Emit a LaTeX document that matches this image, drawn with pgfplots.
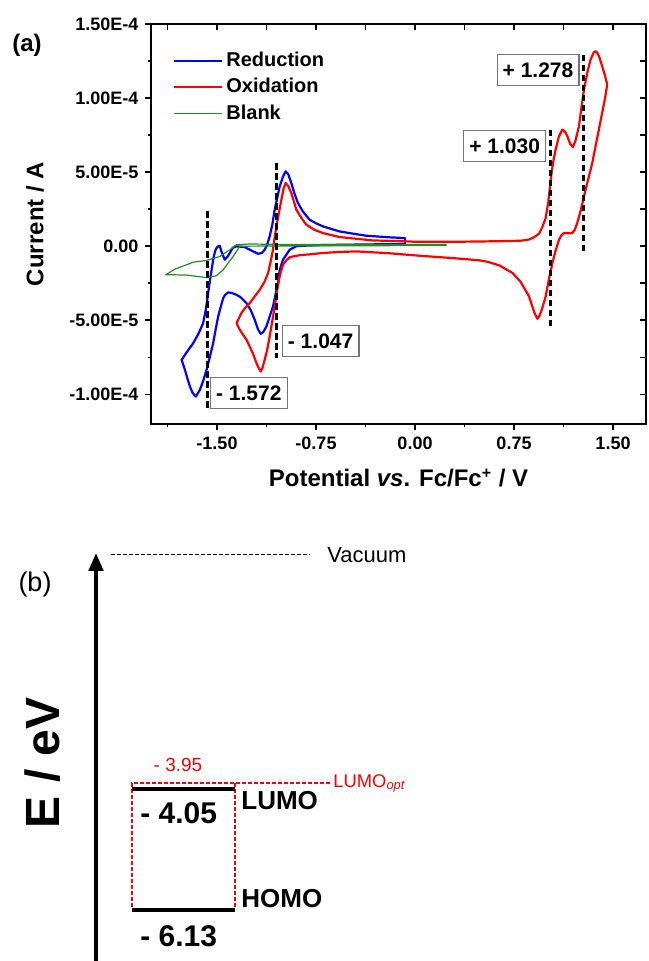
\documentclass[border=0pt]{standalone}
\usepackage{pgfplots}
\pgfplotsset{compat=1.18}
\usepackage{fontspec}
\setmainfont{Liberation Sans}
\usetikzlibrary{arrows.meta}

\definecolor{cvblue}{rgb}{0,0,1}
\definecolor{cvred}{rgb}{1,0,0}
\definecolor{cvgreen}{rgb}{0.13,0.55,0.13}
\definecolor{boxgray}{rgb}{0.45,0.45,0.45}

\pgfplotstableread{
x y
-0.075 0.15
-0.37 0.12
-0.70 0.08
-0.85 0.03
-0.90 0.0
-0.95 -0.24
-1.00 -0.91
-1.025 -1.6
-1.038 -2.49
-1.076 -4.07
-1.126 -5.42
-1.150 -5.8
-1.169 -5.91
-1.190 -5.6
-1.214 -4.97
-1.245 -4.3
-1.277 -3.84
-1.32 -3.45
-1.352 -3.28
-1.39 -3.15
-1.416 -3.12
-1.440 -3.3
-1.453 -3.5
-1.472 -4.1
-1.491 -4.74
-1.510 -5.6
-1.529 -6.54
-1.555 -7.5
-1.579 -8.34
-1.605 -9.1
-1.630 -9.70
-1.660 -10.15
-1.685 -9.9
-1.705 -9.47
-1.725 -8.9
-1.743 -8.34
-1.768 -7.67
-1.725 -7.1
-1.680 -6.54
-1.640 -5.9
-1.605 -5.19
-1.585 -4.3
-1.567 -3.16
-1.548 -2.0
-1.529 -0.91
-1.515 -0.35
-1.504 -0.12
-1.490 0.0
-1.479 0.03
-1.465 -0.4
-1.441 -0.91
-1.420 -0.7
-1.403 -0.46
-1.380 -0.1
-1.352 -0.01
-1.290 -0.06
-1.227 -0.35
-1.189 -0.51
-1.160 -0.45
-1.139 -0.24
-1.120 0.1
-1.101 0.66
-1.080 1.5
-1.063 2.47
-1.045 3.2
-1.025 4.04
-1.000 4.7
-0.980 5.05
-0.960 4.85
-0.937 4.27
-0.915 3.6
-0.887 2.92
-0.850 2.35
-0.799 1.79
-0.75 1.55
-0.698 1.34
-0.572 1.0
-0.45 0.82
-0.370 0.71
-0.194 0.6
-0.075 0.55
-0.075 0.15
}\reduction

\pgfplotstableread{
x y
0.0 0.30
0.30 0.30
0.50 0.32
0.70 0.35
0.80 0.37
0.864 0.45
0.90 0.6
0.940 0.85
0.965 1.3
0.990 1.9
1.010 3.0
1.028 4.49
1.045 5.6
1.065 6.52
1.090 7.4
1.116 7.87
1.135 7.75
1.154 7.42
1.176 6.9
1.196 6.70
1.215 7.1
1.242 8.09
1.260 9.3
1.280 10.57
1.305 11.7
1.330 12.6
1.355 13.1
1.373 13.16
1.395 12.8
1.418 12.15
1.440 11.5
1.456 10.91
1.440 10.0
1.418 9.0
1.380 7.3
1.343 5.62
1.310 4.45
1.280 3.36
1.255 2.4
1.229 1.57
1.210 1.1
1.191 0.89
1.160 0.88
1.129 0.89
1.110 0.75
1.091 0.44
1.065 -0.3
1.041 -1.14
1.015 -2.2
0.990 -3.39
0.960 -4.3
0.940 -4.75
0.927 -4.9
0.905 -4.5
0.864 -3.39
0.80 -2.4
0.738 -1.8
0.64 -1.3
0.55 -1.05
0.486 -0.95
0.284 -0.8
0.033 -0.64
-0.219 -0.46
-0.446 -0.35
-0.60 -0.4
-0.698 -0.46
-0.80 -0.55
-0.87 -0.6
-0.924 -0.69
-0.95 -0.75
-0.975 -0.95
-1.000 -1.25
-1.015 -1.7
-1.025 -2.04
-1.045 -3.0
-1.063 -4.07
-1.082 -5.1
-1.101 -6.09
-1.120 -7.0
-1.139 -7.67
-1.155 -8.2
-1.169 -8.46
-1.185 -8.2
-1.201 -7.89
-1.225 -7.3
-1.252 -6.77
-1.277 -6.3
-1.302 -5.98
-1.330 -5.6
-1.352 -5.19
-1.315 -4.51
-1.285 -4.15
-1.252 -3.84
-1.215 -3.4
-1.176 -2.94
-1.140 -2.4
-1.113 -1.81
-1.095 -1.1
-1.076 -0.24
-1.063 0.6
-1.050 1.34
-1.030 2.3
-1.012 3.14
-0.995 3.9
-0.980 4.27
-0.960 4.05
-0.937 3.59
-0.899 2.47
-0.860 1.9
-0.823 1.45
-0.76 1.1
-0.698 0.89
-0.572 0.62
-0.320 0.39
-0.068 0.33
0.0 0.30
}\oxidation

\pgfplotstableread{
x y
0.24 0.12
-0.5 0.12
-1.0 0.12
-1.252 0.15
-1.352 0.1
-1.403 -0.24
-1.479 -0.69
-1.579 -0.96
-1.68 -1.08
-1.73 -1.25
-1.82 -1.55
-1.889 -1.93
-1.82 -1.93
-1.73 -1.95
-1.579 -2.12
-1.504 -1.99
-1.453 -1.59
-1.378 -0.69
-1.327 0.0
-1.0 0.02
-0.5 0.03
0.24 0.05
}\blank

\begin{document}
\begin{tikzpicture}[
  boxlab/.style={draw=boxgray, line width=0.6pt, fill=white,
    font=\bfseries\fontsize{10.5}{12}\selectfont,
    inner xsep=2.8pt, inner ysep=3.9pt, text height=7.6pt, text depth=0pt},
]
\path[use as bounding box] (0,0) rectangle (324pt,-480.5pt);

% ---------- panel (a): inner ticks on top/right ----------
\begin{axis}[
  at={(75.5pt,-12pt)}, anchor=north west,
  scale only axis, width=247.5pt, height=200pt,
  xmin=-2, xmax=1.75, ymin=-12, ymax=15,
  axis x line*=top, axis y line*=right,
  tick align=inside,
  xtick={-1.5,-0.75,0,0.75,1.5}, xticklabels={},
  minor xtick={-1.875,-1.125,-0.375,0.375,1.125},
  ytick={-10,-5,0,5,10,15}, yticklabels={},
  minor ytick={-7.5,-2.5,2.5,7.5,12.5},
  major tick length=2.8pt, minor tick length=2.8pt,
  every tick/.style={black, line width=0.8pt},
  axis line style={line width=1pt, line cap=rect},
]
\end{axis}

% ---------- panel (a): main axis ----------
\begin{axis}[
  at={(75.5pt,-12pt)}, anchor=north west,
  scale only axis, width=247.5pt, height=200pt,
  xmin=-2, xmax=1.75, ymin=-12, ymax=15,
  axis x line*=bottom, axis y line*=left,
  tick align=outside,
  clip=false,
  xtick={-1.5,-0.75,0,0.75,1.5},
  xticklabels={-1.50,-0.75,0.00,0.75,1.50},
  minor xtick={-1.875,-1.125,-0.375,0.375,1.125},
  ytick={-10,-5,0,5,10,15},
  yticklabels={-1.00E-4,-5.00E-5,0.00,5.00E-5,1.00E-4,1.50E-4},
  minor ytick={-7.5,-2.5,2.5,7.5,12.5},
  major tick length=2.8pt, minor tick length=1.5pt,
  every tick/.style={black, line width=0.8pt},
  axis line style={line width=1pt, line cap=rect},
  tick label style={font=\bfseries\fontsize{9}{10}\selectfont},
  xlabel={Potential \textit{vs}. Fc/Fc\textsuperscript{+} / V},
  ylabel={Current / A},
  label style={font=\bfseries\fontsize{12}{14}\selectfont},
  xlabel style={at={(axis description cs:0.5,-0.135)}, anchor=center},
  ylabel style={at={(axis description cs:-0.2343,0.5)}, anchor=center},
  legend style={at={(axis description cs:0.044,0.94)}, anchor=north west,
    draw=none, fill=none, inner sep=0pt, row sep=0.75pt,
    font=\bfseries\fontsize{10}{11}\selectfont,
    nodes={inner sep=1.5pt, text height=7.5pt, text depth=2pt}},
  legend cell align=left,
  legend image code/.code={\draw[#1] (0pt,0pt) -- (24pt,0pt);},
]
\addplot[cvblue, line width=1.1pt, line join=round] table {\reduction};
\addlegendentry{Reduction}
\addplot[cvred, line width=1.1pt, line join=round] table {\oxidation};
\addlegendentry{Oxidation}
\addplot[cvgreen, line width=0.6pt, line join=round] table {\blank};
\addlegendentry{Blank}

\addplot[forget plot, black, line width=1.5pt, dash pattern=on 3.3pt off 1.7pt] coordinates {(-1.572,2.35) (-1.572,-10.9)};
\addplot[forget plot, black, line width=1.5pt, dash pattern=on 3.3pt off 1.7pt] coordinates {(-1.047,5.62) (-1.047,-7.55)};
\addplot[forget plot, black, line width=1.5pt, dash pattern=on 3.3pt off 1.7pt] coordinates {(1.030,7.87) (1.030,-5.42)};
\addplot[forget plot, black, line width=1.5pt, dash pattern=on 3.3pt off 1.7pt] coordinates {(1.278,12.94) (1.278,-0.35)};

\node[boxlab] at (axis cs:0.932,11.89) {+ 1.278};
\node[boxlab] at (axis cs:0.679,6.76) {+ 1.030};
\node[boxlab] at (axis cs:-0.715,-6.39) {- 1.047};
\node[boxlab] at (axis cs:-1.259,-9.9) {- 1.572};
\end{axis}

\node[font=\bfseries\fontsize{12}{14}\selectfont] at (13.5pt,-22.5pt) {(a)};

% ---------- panel (b): energy diagram ----------
\begin{axis}[
  at={(0pt,-480.5pt)}, anchor=south west,
  scale only axis, width=324pt, height=218pt,
  xmin=0, xmax=648, ymin=-7.017, ymax=0.5,
  hide axis, clip=false,
]
% energy axis arrow
\addplot[black, line width=2.3pt, -{Triangle[width=7pt,length=9pt]}] coordinates {(96,-7.017) (96,0.02)};
% vacuum level
\addplot[black, line width=0.5pt, dash pattern=on 2pt off 1pt] coordinates {(111,0) (310,0)};
% optical LUMO (red dashed frame)
\addplot[cvred, line width=0.8pt, dash pattern=on 2pt off 1pt] coordinates {(330,-3.95) (132,-3.95) (132,-6.10)};
\addplot[cvred, line width=0.8pt, dash pattern=on 2pt off 1pt] coordinates {(235,-3.95) (235,-6.10)};
% LUMO and HOMO
\addplot[black, line width=2pt] coordinates {(132,-4.05) (235,-4.05)};
\addplot[black, line width=2pt] coordinates {(132,-6.13) (235,-6.13)};

\node[anchor=base west, inner sep=0pt, font=\fontsize{11}{13}\selectfont] at (axis cs:327,-0.155) {Vacuum};
\node[font=\fontsize{13.5}{16}\selectfont] at (axis cs:35,-0.53) {(b)};
\node[rotate=90, font=\bfseries\fontsize{24}{28}\selectfont] at (axis cs:42.5,-3.60) {E / eV};
\node[cvred, font=\fontsize{9.5}{11}\selectfont] at (axis cs:178,-3.64) {- 3.95};
\node[cvred, anchor=base west, inner sep=0pt, font=\fontsize{9.2}{11}\selectfont] at (axis cs:333,-4.03) {LUMO\textsubscript{\textit{opt}}};
\node[anchor=base west, inner sep=0pt, font=\bfseries\fontsize{15}{18}\selectfont] at (axis cs:140,-4.64) {- 4.05};
\node[anchor=base west, inner sep=0pt, font=\bfseries\fontsize{13}{16}\selectfont] at (axis cs:241,-4.41) {LUMO};
\node[anchor=base west, inner sep=0pt, font=\bfseries\fontsize{13}{16}\selectfont] at (axis cs:241,-6.10) {HOMO};
\node[anchor=base west, inner sep=0pt, font=\bfseries\fontsize{15}{18}\selectfont] at (axis cs:140,-6.77) {- 6.13};
\end{axis}
\end{tikzpicture}
\end{document}
